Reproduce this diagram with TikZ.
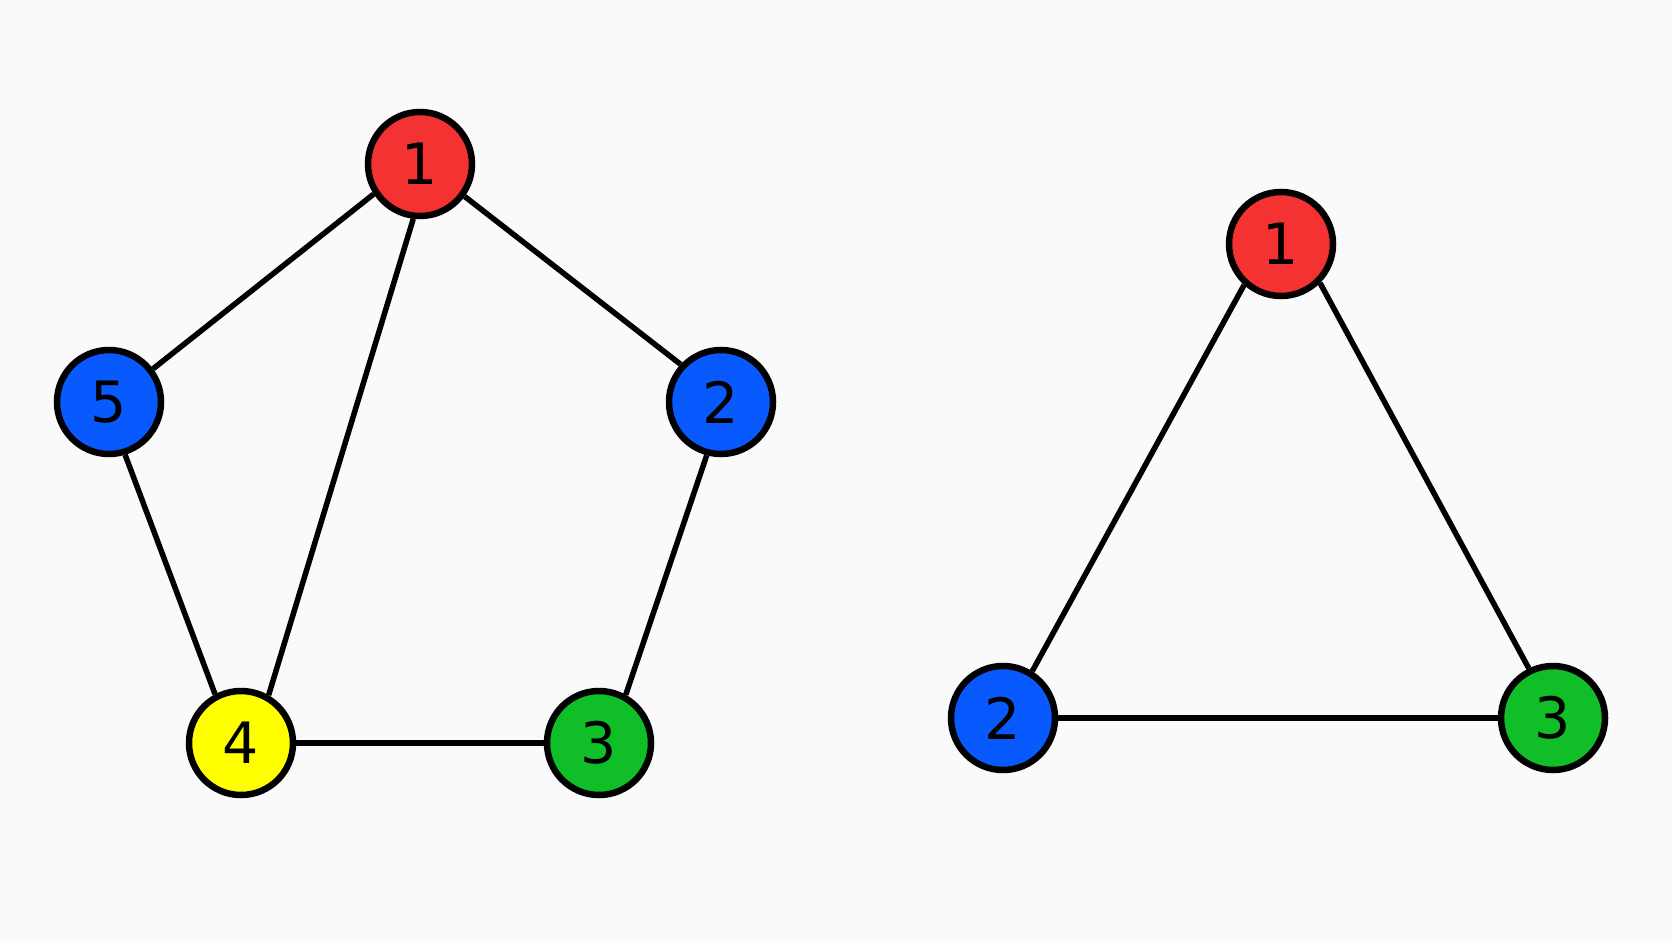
\documentclass[tikz,border=0pt]{standalone}
\usepackage{fontspec}
\setmainfont{DejaVu Sans}
\definecolor{nred}{RGB}{244,50,50}
\definecolor{nblue}{RGB}{8,90,255}
\definecolor{ngreen}{RGB}{16,190,40}
\definecolor{nyellow}{RGB}{255,255,0}
\definecolor{bg}{RGB}{250,250,250}
\begin{document}
\begin{tikzpicture}[x=1pt,y=-1pt,
  vert/.style={circle,draw=black,line width=6.5pt,minimum size=104pt,inner sep=0pt,font=\fontsize{57}{60}\selectfont},
  edge/.style={line width=5.5pt,black}]
\fill[bg] (0,0) rectangle (1672,941);
\useasboundingbox (0,0) rectangle (1672,941);
% left graph
\node[vert,fill=nred] (a1) at (420,164) {1};
\node[vert,fill=nblue] (a2) at (721,402) {2};
\node[vert,fill=ngreen] (a3) at (599,743) {3};
\node[vert,fill=nyellow] (a4) at (241,743) {4};
\node[vert,fill=nblue] (a5) at (109,402) {5};
\draw[edge] (a1.213) -- (a5.37);
\draw[edge] (a1.324) -- (a2.137);
\draw[edge] (a1.263) -- (a4.60);
\draw[edge] (a5.287) -- (a4.118);
\draw[edge] (a2.255) -- (a3.61);
\draw[edge] (a4) -- (a3);
% right graph
\node[vert,fill=nred] (b1) at (1281,244) {1};
\node[vert,fill=nblue] (b2) at (1003,718) {2};
\node[vert,fill=ngreen] (b3) at (1553,718) {3};
\draw[edge] (b1.228) -- (b2.58);
\draw[edge] (b1.315) -- (b3.116);
\draw[edge] (b2) -- (b3);
\end{tikzpicture}
\end{document}
